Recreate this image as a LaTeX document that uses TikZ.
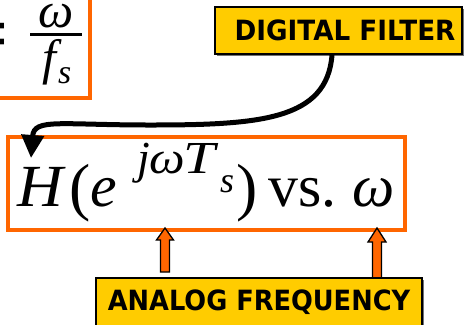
\documentclass[tikz,border=0pt]{standalone}
\usepackage{fontspec}
\usetikzlibrary{arrows.meta,shadows}
\newfontfamily\tms{Liberation Serif}[ItalicFont={Liberation Serif Italic}, BoldFont={Liberation Serif Bold}]
\newfontfamily\dvs{DejaVu Sans}
\definecolor{orng}{HTML}{FF6600}
\definecolor{gold}{HTML}{FFCC00}
\newcommand{\bigsz}{\fontsize{60}{60}\selectfont}
\newcommand{\parsz}{\fontsize{64}{64}\selectfont}
\newcommand{\supsz}{\fontsize{46}{46}\selectfont}
\newcommand{\subsz}{\fontsize{36}{36}\selectfont}
\begin{document}
\begin{tikzpicture}[x=1bp,y=-1bp,
  obox/.style={draw=orng, line width=3.5bp, inner sep=0pt},
  goldbox/.style={draw=black, line width=2bp, fill=gold, inner sep=0pt,
    drop shadow={shadow xshift=1.5bp, shadow yshift=-2bp, fill=black!55, opacity=1}},
  lbl/.style={font=\dvs\bfseries\fontsize{28}{28}\selectfont},
  m/.style={inner sep=0pt, anchor=base west},
  upar/.style={draw=black, line width=1.3bp, fill=orng, line join=miter},
  curvearrow/.style={line width=5bp, -{Triangle[width=22bp,length=23bp]}}]
\useasboundingbox (0,0) rectangle (465,324);
\clip (0,0) rectangle (465,324);
% top-left fraction box
\node[obox, minimum width=100bp, minimum height=108bp] (fbox) at (40,44) {};
\node[inner sep=0pt, anchor=base east, font=\tms\bfseries\fontsize{80}{80}\selectfont] (eq) at (9,60) {=};
\node[inner sep=0pt, anchor=base, font=\tms\itshape\fontsize{50}{50}\selectfont] (om1) at (56,27) {ω};
\draw[line width=3bp] (30,34) -- (82,34);
\node[m, font=\tms\itshape\fontsize{50}{50}\selectfont] (f) at (42,74) {f};
\node[m, font=\tms\itshape\fontsize{34}{34}\selectfont] (fs) at (58,83) {s};
% main formula box
\node[obox, minimum width=397bp, minimum height=93bp] (main) at (206.5,183.5) {};
\node[m, font=\tms\itshape\bigsz] (H) at (17,206) {\scalebox{1.06}[1]{H}};
\node[m, font=\tms\parsz] (lp) at (69,208) {(};
\node[m, font=\tms\itshape\bigsz] (e) at (90,206) {e};
\node[m, font=\tms\itshape\supsz] (j) at (137,173) {j};
\node[m, font=\tms\itshape\supsz] (om3) at (149,173) {\scalebox{1.1}[1]{ω}};
\node[m, font=\tms\itshape\supsz] (T) at (183,173) {\scalebox{1.25}[1]{T}};
\node[m, font=\tms\itshape\subsz] (sub) at (220,192) {s};
\node[m, font=\tms\parsz] (rp) at (236,208) {)};
\node[m, font=\tms\bigsz] (vs) at (268,206) {vs.};
\node[m, font=\tms\itshape\bigsz] (om2) at (352,206) {ω};
% orange up arrows
\coordinate (a1) at (165,228);
\coordinate (a2) at (377,228);
\draw[upar] (a1) -- ++(8.5,12) -- ++(-4,0) -- ++(0,32) -- ++(-9,0) -- ++(0,-32) -- ++(-4,0) -- cycle;
\draw[upar] (a2) -- ++(9,14) -- ++(-4.5,0) -- ++(0,38) -- ++(-9,0) -- ++(0,-38) -- ++(-4.5,0) -- cycle;
% label boxes
\node[goldbox, minimum width=326bp, minimum height=49bp, lbl] (af) at (259,302.5) {\scalebox{0.92}[1]{ANALOG FREQUENCY}};
\node[goldbox, minimum width=247bp, minimum height=47bp, lbl] (df) at (338.5,30.5) {\hspace*{13bp}\scalebox{0.94}[1]{DIGITAL FILTER}};
% curved arrow
\coordinate (c1) at (332,0);
\coordinate (tipH) at (31,158);
\draw[curvearrow] (c1 |- df.south) .. controls (327,120) and (260,125) .. (150,125) .. controls (60,125) and (34,118) .. (tipH);
\end{tikzpicture}
\end{document}
